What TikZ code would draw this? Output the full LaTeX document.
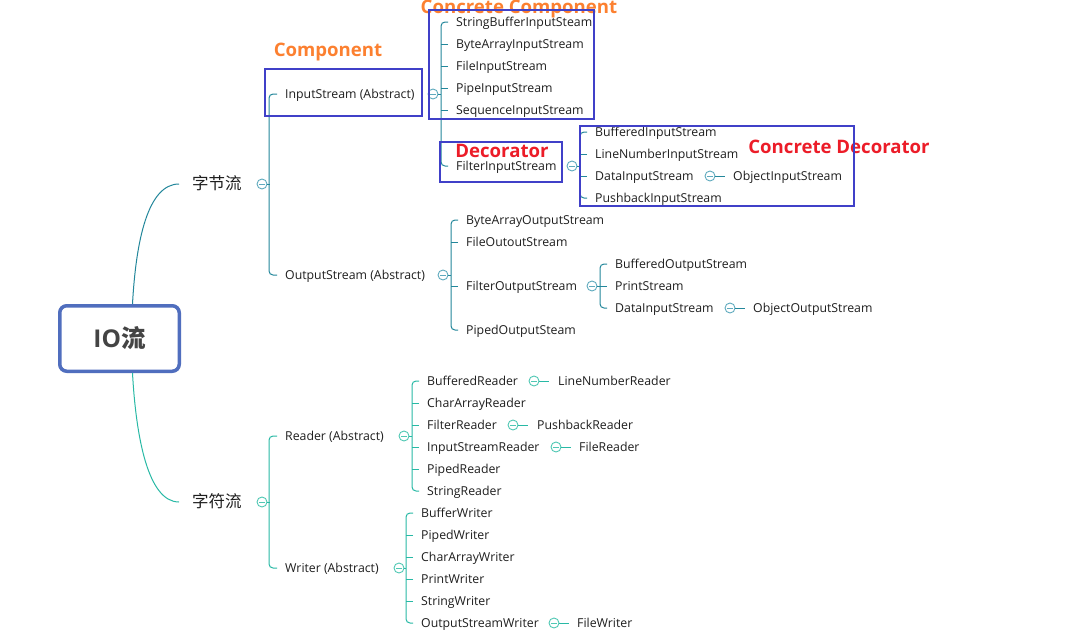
\documentclass[tikz,border=0pt]{standalone}
\usepackage{fontspec}
\setmainfont{Open Sans}
\newfontfamily\cjk{Noto Sans CJK SC}
\definecolor{bt}{RGB}{35,135,155}
\definecolor{btc}{RGB}{95,170,190}
\definecolor{ct}{RGB}{40,185,165}
\definecolor{ctc}{RGB}{80,200,180}
\definecolor{frame}{RGB}{64,64,200}
\definecolor{orng}{RGB}{252,128,48}
\definecolor{redl}{RGB}{236,28,40}
\definecolor{rootb}{RGB}{80,110,190}
\definecolor{rootdark}{RGB}{68,68,68}
\definecolor{txt}{RGB}{30,30,30}
\begin{document}
\begin{tikzpicture}[x=1pt,y=-1pt,
 item/.style={anchor=west,inner sep=0pt,font=\fontsize{12.3}{14}\selectfont,text=txt,text height=0.9em,text depth=0pt},
 lvl/.style={anchor=west,inner sep=0pt,font=\cjk\fontsize{16.5}{18}\selectfont,text=txt,text height=11.5pt,text depth=0pt},
 tog/.style={circle,draw=#1,line width=0.9pt,minimum size=10pt,inner sep=0pt,fill=white,
   path picture={\draw[#1,line width=0.9pt] ([xshift=-2.6pt]path picture bounding box.center) -- ([xshift=2.6pt]path picture bounding box.center);}},
 bb/.style={draw=bt,line width=1pt,rounded corners=4pt},
 cb/.style={draw=ct,line width=1pt,rounded corners=4pt},
 fr/.style={draw=frame,line width=1.8pt},
 lab/.style={inner sep=0pt,font=\bfseries\fontsize{18.6}{20}\selectfont}
]
\useasboundingbox[fill=white] (0,0) rectangle (1073,643);

% ---------- root ----------
\node[draw=rootb,line width=3.5pt,rounded corners=7pt,minimum width=119.5pt,minimum height=65.5pt,inner sep=0pt,fill=white,
      font=\bfseries\fontsize{24.5}{26}\selectfont,text=rootdark] (root) at (119.5,338.5) {IO{\cjk\bfseries 流}};

% ---------- level 1 ----------
\node[lvl] (zj) at (192,184) {字节流};
\node[lvl] (zf) at (192,502) {字符流};
\draw[bb] ([xshift=13pt]root.north) .. controls (136,240) and (148,184) .. ([xshift=-13pt]zj.west);
\draw[cb] ([xshift=13pt]root.south) .. controls (136,437) and (148,502) .. ([xshift=-13pt]zf.west);

% ---------- byte streams ----------
\node[tog=btc] (t0) at (262,184) {};
\node[item] (is) at (285,94) {InputStream (Abstract)};
\node[item] (os) at (285,275) {OutputStream (Abstract)};
\draw[bb] (t0.east) -- ++(3,0);
\draw[bb] ([xshift=-8pt]is.west) -- ++(-8,0) |- ([xshift=-8pt]os.west);

% InputStream children
\node[tog=btc] (tis) at (433,94) {};
\node[item] (a1) at (456,22) {StringBufferInputSteam};
\node[item] (a2) at (456,44) {ByteArrayInputStream};
\node[item] (a3) at (456,66) {FileInputStream};
\node[item] (a4) at (456,88) {PipeInputStream};
\node[item] (a5) at (456,110) {SequenceInputStream};
\node[item] (a6) at (456,166) {FilterInputStream};
\draw[bb] (tis.east) -- ++(3,0);
\draw[bb] ([xshift=-8pt]a1.west) -- ++(-7,0) |- ([xshift=-8pt]a6.west);
\foreach \n in {a2,a3,a4,a5} \draw[bb] ([xshift=-8pt]\n.west) -- ++(-7,0);

% FilterInputStream children
\node[tog=btc] (tfis) at (572,166) {};
\node[item] (b1) at (595,132) {BufferedInputStream};
\node[item] (b2) at (595,154) {LineNumberInputStream};
\node[item] (b3) at (595,176) {DataInputStream};
\node[item] (b4) at (595,198) {PushbackInputStream};
\draw[bb] (tfis.east) -- ++(3,0);
\draw[bb] ([xshift=-8pt]b1.west) -- ++(-7,0) |- ([xshift=-8pt]b4.west);
\foreach \n in {b2,b3} \draw[bb] ([xshift=-8pt]\n.west) -- ++(-7,0);
\node[tog=btc] (tdis) at (710,176) {};
\node[item] (b5) at (733,176) {ObjectInputStream};
\draw[bb] (tdis.east) -- ++(10,0);

% OutputStream children
\node[tog=btc] (tos) at (443,275) {};
\node[item] (c1) at (466,220) {ByteArrayOutputStream};
\node[item] (c2) at (466,242) {FileOutoutStream};
\node[item] (c3) at (466,286) {FilterOutputStream};
\node[item] (c4) at (466,330) {PipedOutputSteam};
\draw[bb] (tos.east) -- ++(3,0);
\draw[bb] ([xshift=-8pt]c1.west) -- ++(-7,0) |- ([xshift=-8pt]c4.west);
\foreach \n in {c2,c3} \draw[bb] ([xshift=-8pt]\n.west) -- ++(-7,0);

% FilterOutputStream children
\node[tog=btc] (tfos) at (592,286) {};
\node[item] (d1) at (615,264) {BufferedOutputStream};
\node[item] (d2) at (615,286) {PrintStream};
\node[item] (d3) at (615,308) {DataInputStream};
\draw[bb] (tfos.east) -- ++(3,0);
\draw[bb] ([xshift=-8pt]d1.west) -- ++(-7,0) |- ([xshift=-8pt]d3.west);
\draw[bb] ([xshift=-8pt]d2.west) -- ++(-7,0);
\node[tog=btc] (tdos) at (730,308) {};
\node[item] (d4) at (753,308) {ObjectOutputStream};
\draw[bb] (tdos.east) -- ++(10,0);

% ---------- char streams ----------
\node[tog=ctc] (t1) at (262,502) {};
\node[item] (rd) at (285,436) {Reader (Abstract)};
\node[item] (wr) at (285,568) {Writer (Abstract)};
\draw[cb] (t1.east) -- ++(3,0);
\draw[cb] ([xshift=-8pt]rd.west) -- ++(-8,0) |- ([xshift=-8pt]wr.west);

% Reader children
\node[tog=ctc] (trd) at (404,436) {};
\node[item] (e1) at (427,381) {BufferedReader};
\node[item] (e2) at (427,403) {CharArrayReader};
\node[item] (e3) at (427,425) {FilterReader};
\node[item] (e4) at (427,447) {InputStreamReader};
\node[item] (e5) at (427,469) {PipedReader};
\node[item] (e6) at (427,491) {StringReader};
\draw[cb] (trd.east) -- ++(3,0);
\draw[cb] ([xshift=-8pt]e1.west) -- ++(-7,0) |- ([xshift=-8pt]e6.west);
\foreach \n in {e2,e3,e4,e5} \draw[cb] ([xshift=-8pt]\n.west) -- ++(-7,0);
\node[tog=ctc] (tbr) at (534,381) {};
\node[item] (e7) at (558,381) {LineNumberReader};
\draw[cb] (tbr.east) -- ++(10,0);
\node[tog=ctc] (tfr) at (513,425) {};
\node[item] (e8) at (537,425) {PushbackReader};
\draw[cb] (tfr.east) -- ++(10,0);
\node[tog=ctc] (tisr) at (556,447) {};
\node[item] (e9) at (579,447) {FileReader};
\draw[cb] (tisr.east) -- ++(10,0);

% Writer children
\node[tog=ctc] (twr) at (399,568) {};
\node[item] (f1) at (421,513) {BufferWriter};
\node[item] (f2) at (421,535) {PipedWriter};
\node[item] (f3) at (421,557) {CharArrayWriter};
\node[item] (f4) at (421,579) {PrintWriter};
\node[item] (f5) at (421,601) {StringWriter};
\node[item] (f6) at (421,623) {OutputStreamWriter};
\draw[cb] (twr.east) -- ++(2,0);
\draw[cb] ([xshift=-8pt]f1.west) -- ++(-7,0) |- ([xshift=-8pt]f6.west);
\foreach \n in {f2,f3,f4,f5} \draw[cb] ([xshift=-8pt]\n.west) -- ++(-7,0);
\node[tog=ctc] (tosw) at (554,623) {};
\node[item] (f7) at (577,623) {FileWriter};
\draw[cb] (tosw.east) -- ++(10,0);

% ---------- annotations ----------
\node[lab,text=orng] (lcomp) at (328,52) {Component};
\node[lab,text=orng] (lccomp) at (519,9) {Concrete Component};
\node[lab,text=redl] (ldec) at (502,151) {Decorator};
\node[lab,text=redl] (lcdec) at (839,147) {Concrete Decorator};
\draw[fr] (265,69) rectangle (422,116);
\draw[fr] (429,10) rectangle (594,119);
\draw[fr] (440,142) rectangle (562,182);
\draw[fr] (580,126) rectangle (854,206);
\end{tikzpicture}
\end{document}
